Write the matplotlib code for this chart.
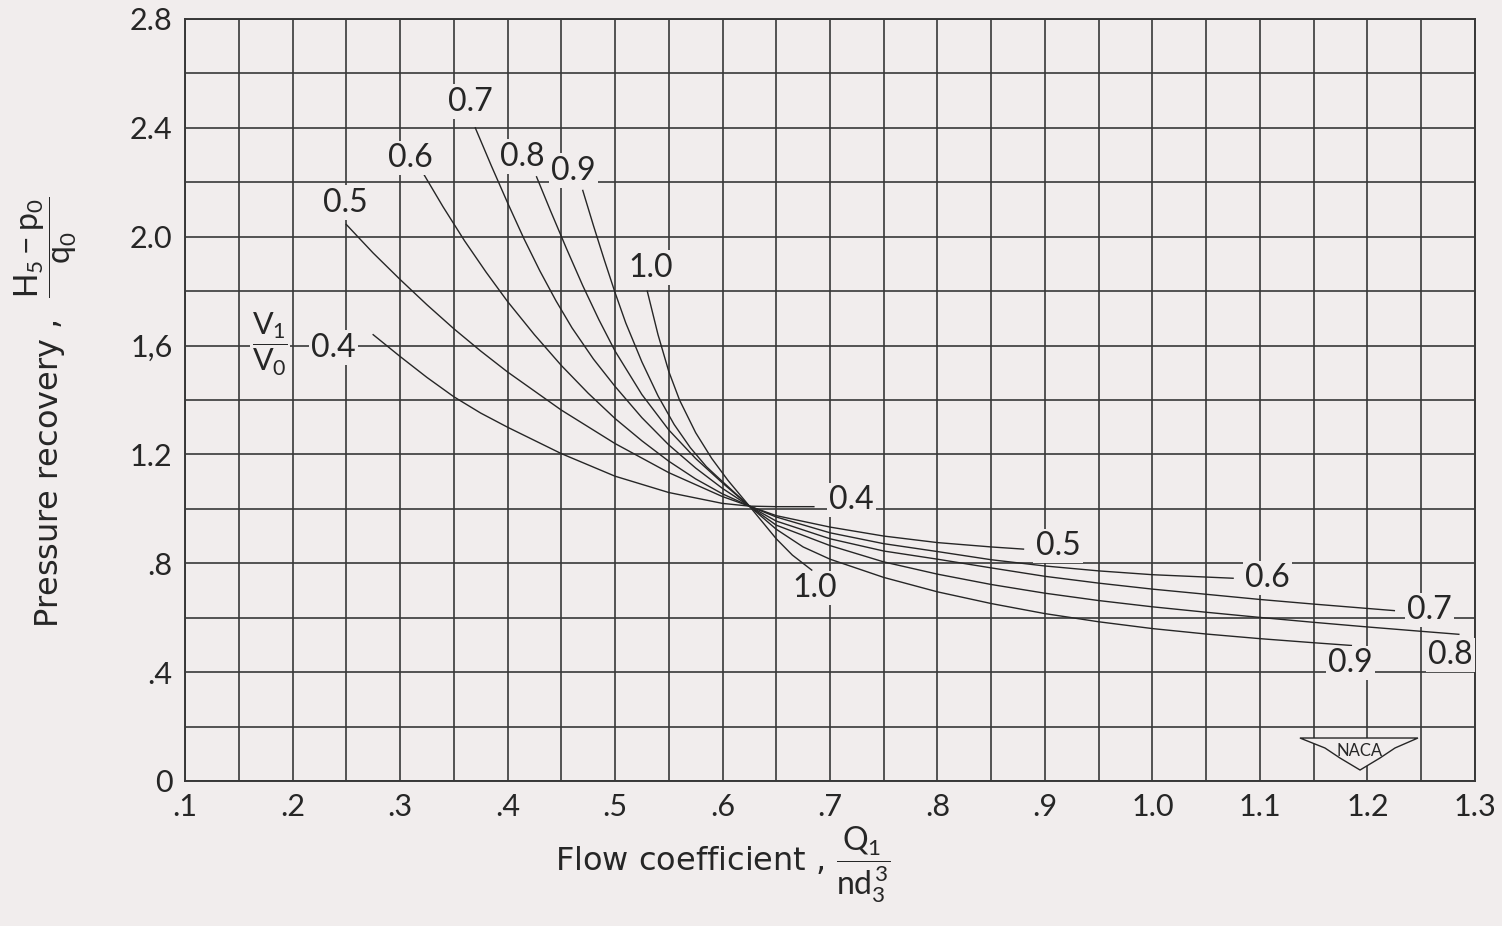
import numpy as np
import matplotlib
matplotlib.use("Agg")
import matplotlib.pyplot as plt
from matplotlib.patches import Polygon

plt.rcParams['font.family'] = ['Lato', 'DejaVu Sans']
plt.rcParams['mathtext.fontset'] = 'custom'
plt.rcParams['mathtext.rm'] = 'Lato'
plt.rcParams['mathtext.it'] = 'Lato'
plt.rcParams['mathtext.bf'] = 'Lato:bold'

# ---------------- data ----------------
ratios = ["0.4", "0.5", "0.6", "0.7", "0.8", "0.9", "1.0"]

c04_x = [0.275, 0.30, 0.325, 0.35, 0.375, 0.40, 0.45, 0.50, 0.55, 0.60, 0.625, 0.65, 0.685]
c04_y = [1.64, 1.56, 1.483, 1.412, 1.352, 1.30, 1.203, 1.12, 1.06, 1.02, 1.01, 1.008, 1.008]

c05_x = [0.25, 0.275, 0.30, 0.325, 0.35, 0.375, 0.40, 0.45, 0.50, 0.55, 0.60, 0.625,
         0.65, 0.70, 0.75, 0.80, 0.85, 0.88]
c05_y = [2.045, 1.94, 1.843, 1.75, 1.662, 1.58, 1.503, 1.363, 1.24, 1.133, 1.045, 1.01,
         0.975, 0.933, 0.90, 0.876, 0.86, 0.852]

c06_x = [0.322, 0.34, 0.36, 0.38, 0.40, 0.425, 0.45, 0.475, 0.50, 0.525, 0.55, 0.575, 0.60, 0.625,
         0.65, 0.70, 0.75, 0.80, 0.85, 0.90, 0.95, 1.0, 1.075]
c06_y = [2.23, 2.11, 1.985, 1.87, 1.762, 1.64, 1.527, 1.425, 1.332, 1.25, 1.175, 1.11, 1.055, 1.01,
         0.97, 0.912, 0.872, 0.843, 0.813, 0.79, 0.772, 0.758, 0.745]

c07_x = [0.37, 0.385, 0.40, 0.415, 0.43, 0.445, 0.46, 0.48, 0.50, 0.525, 0.55, 0.575, 0.60, 0.625,
         0.65, 0.70, 0.75, 0.80, 0.85, 0.90, 0.95, 1.0, 1.05, 1.10, 1.15, 1.20, 1.225]
c07_y = [2.40, 2.26, 2.125, 1.995, 1.875, 1.765, 1.665, 1.55, 1.45, 1.335, 1.235, 1.15, 1.075, 1.01,
         0.955, 0.89, 0.845, 0.815, 0.783, 0.752, 0.727, 0.705, 0.686, 0.667, 0.65, 0.634, 0.626]

c08_x = [0.427, 0.44, 0.455, 0.47, 0.485, 0.50, 0.525, 0.55, 0.575, 0.60, 0.625,
         0.65, 0.70, 0.75, 0.80, 0.85, 0.90, 0.95, 1.0, 1.05, 1.10, 1.15, 1.20, 1.25, 1.285]
c08_y = [2.22, 2.095, 1.955, 1.82, 1.695, 1.58, 1.42, 1.29, 1.185, 1.095, 1.01,
         0.94, 0.865, 0.805, 0.76, 0.722, 0.69, 0.663, 0.64, 0.62, 0.601, 0.583, 0.566, 0.55, 0.539]

c09_x = [0.47, 0.48, 0.49, 0.50, 0.51, 0.525, 0.54, 0.555, 0.57, 0.585, 0.60, 0.625,
         0.65, 0.675, 0.70, 0.75, 0.80, 0.85, 0.90, 0.95, 1.0, 1.05, 1.10, 1.15, 1.185]
c09_y = [2.17, 2.04, 1.915, 1.795, 1.683, 1.54, 1.415, 1.31, 1.225, 1.155, 1.10, 1.01,
         0.925, 0.86, 0.815, 0.748, 0.695, 0.652, 0.615, 0.585, 0.56, 0.54, 0.523, 0.508, 0.498]

c10_x = [0.53, 0.54, 0.55, 0.56, 0.575, 0.59, 0.605, 0.625, 0.65, 0.665, 0.683]
c10_y = [1.80, 1.64, 1.505, 1.40, 1.28, 1.185, 1.105, 1.01, 0.89, 0.83, 0.775]

curves_x = [c04_x, c05_x, c06_x, c07_x, c08_x, c09_x, c10_x]
curves_y = [c04_y, c05_y, c06_y, c07_y, c08_y, c09_y, c10_y]

x_ticks = [0.1, 0.2, 0.3, 0.4, 0.5, 0.6, 0.7, 0.8, 0.9, 1.0, 1.1, 1.2, 1.3]
x_ticklabels = [".1", ".2", ".3", ".4", ".5", ".6", ".7", ".8", ".9", "1.0", "1.1", "1.2", "1.3"]
y_ticks = [0, 0.4, 0.8, 1.2, 1.6, 2.0, 2.4, 2.8]
y_ticklabels = ["0", ".4", ".8", "1.2", "1,6", "2.0", "2.4", "2.8"]

# label annotations (text, x, y)
top_labels = [("0.5", 0.249, 2.125), ("0.6", 0.310, 2.29), ("0.7", 0.365, 2.496),
              ("0.8", 0.414, 2.294), ("0.9", 0.461, 2.243), ("1.0", 0.533, 1.886),
              ("0.4", 0.238, 1.592)]
right_labels = [("0.4", 0.720, 1.033), ("1.0", 0.686, 0.71), ("0.5", 0.912, 0.864),
                ("0.6", 1.107, 0.746), ("0.7", 1.258, 0.629), ("0.8", 1.277, 0.463),
                ("0.9", 1.184, 0.434)]

# ---------------- style ----------------
bg = "#f1eded"
ink = "#262626"
gridc = "#383838"

fig = plt.figure(figsize=(15.02, 9.26), dpi=100)
fig.patch.set_facecolor(bg)
ax = fig.add_axes([0.1232, 0.1566, 0.8588, 0.8229])
ax.set_facecolor(bg)

ax.set_xlim(0.1, 1.3)
ax.set_ylim(0, 2.8)
ax.set_xticks(x_ticks)
ax.set_xticklabels(x_ticklabels)
ax.set_xticks(np.arange(0.15, 1.3, 0.1), minor=True)
ax.set_yticks(y_ticks)
ax.set_yticklabels(y_ticklabels)
ax.set_yticks(np.arange(0.2, 2.8, 0.4), minor=True)
ax.grid(which='both', color=gridc, lw=1.2)
ax.set_axisbelow(True)
ax.tick_params(which='both', length=0, labelsize=22, colors=ink, pad=9)
for s in ax.spines.values():
    s.set_color(gridc)
    s.set_linewidth(1.4)

for cx, cy in zip(curves_x, curves_y):
    ax.plot(cx, cy, color=ink, lw=1.0, zorder=3)

box = dict(facecolor=bg, edgecolor='none', pad=1.5)
for t, x, y in top_labels + right_labels:
    ax.text(x, y, t, fontsize=23, color=ink, ha='center', va='center', bbox=box, zorder=4)

ax.text(0.179, 1.603, r'$\dfrac{V_1}{V_0}$', fontsize=22, color=ink, ha='center', va='center',
        bbox=box, zorder=4)

# NACA emblem (decoration)
wing = [(0.8643, 0.0564), (0.9558, 0.0564), (0.938, 0.0433), (0.9264, 0.0302),
        (0.9109, 0.0144), (0.8953, 0.0302), (0.8837, 0.0433)]
ax.add_patch(Polygon(wing, closed=True, transform=ax.transAxes, facecolor=bg,
                     edgecolor=ink, lw=1.0, zorder=4))
ax.text(0.9109, 0.040, "NACA", transform=ax.transAxes, fontsize=12, color=ink,
        ha='center', va='center', zorder=5)

fig.text(0.030, 0.555, r'Pressure recovery ,  $\dfrac{H_5 - p_0}{q_0}$', rotation=90,
         fontsize=23, color=ink, ha='center', va='center', family=['DejaVu Sans'])
fig.text(0.481, 0.066, r'Flow coefficient , $\dfrac{Q_1}{nd_3^3}$',
         fontsize=23, color=ink, ha='center', va='center', family=['DejaVu Sans'])

fig.savefig("out.png", dpi=100, facecolor=bg)
